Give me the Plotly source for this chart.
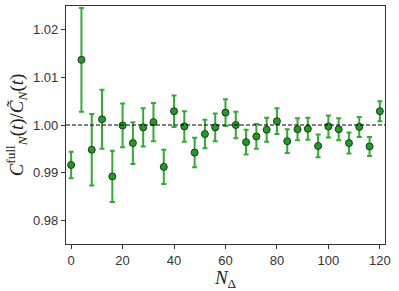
import plotly.graph_objects as go

n_delta = [0, 4, 8, 12, 16, 20, 24, 28, 32, 36, 40, 44, 48, 52, 56, 60,
           64, 68, 72, 76, 80, 84, 88, 92, 96, 100, 104, 108, 112, 116, 120]
ratio = [0.9916, 1.0137, 0.9948, 1.0012, 0.9892, 0.9999, 0.9962, 0.9995,
         1.0006, 0.9912, 1.0029, 0.9997, 0.9942, 0.9981, 0.9995, 1.0026,
         1.0000, 0.9964, 0.9976, 0.9990, 1.0008, 0.9966, 0.9991, 0.9992,
         0.9956, 0.9997, 0.9991, 0.9962, 0.9996, 0.9955, 1.0029]
err = [0.0028, 0.0109, 0.0075, 0.0062, 0.0054, 0.0046, 0.0044, 0.0040,
       0.0040, 0.0036, 0.0033, 0.0032, 0.0031, 0.0030, 0.0029, 0.0028,
       0.0028, 0.0026, 0.0026, 0.0025, 0.0027, 0.0025, 0.0023, 0.0023,
       0.0024, 0.0023, 0.0023, 0.0022, 0.0021, 0.0020, 0.0021]

x_ticks = [0, 20, 40, 60, 80, 100, 120]
y_ticks = [0.98, 0.99, 1.00, 1.01, 1.02]
y_tick_labels = ["0.98", "0.99", "1.00", "1.01", "1.02"]

fig = go.Figure()
fig.add_hline(y=1.0, line=dict(color="black", width=1, dash="4px,2px"))
fig.add_trace(go.Scatter(
    x=n_delta, y=ratio, mode="markers",
    error_y=dict(type="data", array=err, visible=True,
                 color="#33aa33", thickness=2, width=2.5),
    marker=dict(size=7, color="#239a23", line=dict(color="#1a3a1a", width=1)),
    showlegend=False,
))

axis_common = dict(showline=True, mirror=True, linecolor="#333333", linewidth=1.2,
                   ticks="outside", ticklen=4, tickcolor="#333333",
                   showgrid=False, zeroline=False, automargin=False,
                   tickfont=dict(family="Liberation Sans, Arial, sans-serif", size=13, color="#333333"))

fig.update_xaxes(range=[-2, 122], tickvals=x_ticks, **axis_common,
                 title=dict(text="<i>N</i><sub>Δ</sub>",
                            font=dict(family="Liberation Serif, serif", size=19, color="#222222"),
                            standoff=4))
fig.update_yaxes(range=[0.975, 1.025], tickvals=y_ticks, ticktext=y_tick_labels, **axis_common,
                 title=dict(text="<i>C</i><sup>full</sup><sub><i>N</i></sub>(<i>t</i>)/<i>C̃</i><sub><i>N</i></sub>(<i>t</i>)",
                            font=dict(family="Liberation Serif, serif", size=19, color="#222222"),
                            standoff=4))

fig.update_layout(width=399, height=291, margin=dict(l=66, r=14, t=6, b=47),
                  plot_bgcolor="white", paper_bgcolor="white")

fig.write_html("out.html", config={"displayModeBar": False},
               post_script="document.body.style.margin='0';document.body.style.padding='0';")
